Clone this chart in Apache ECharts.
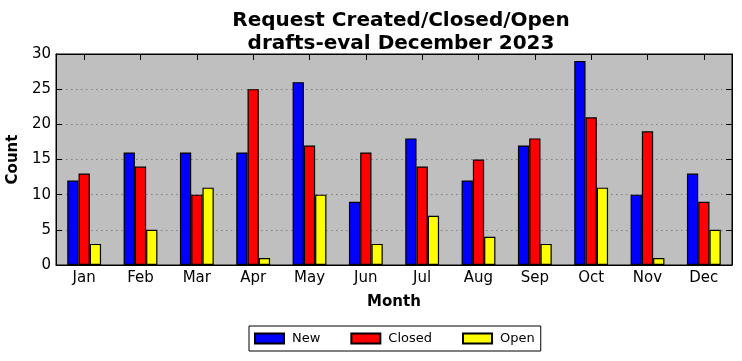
<!DOCTYPE html>
<html><head><meta charset="utf-8">
<script src="https://cdn.jsdelivr.net/npm/echarts@6/dist/echarts.min.js"></script>
<style>html,body{margin:0;padding:0;background:#fff}#c{width:742px;height:361px}</style>
</head><body><div id="c"></div>
<script>
const months = ['Jan','Feb','Mar','Apr','May','Jun','Jul','Aug','Sep','Oct','Nov','Dec'];
const newVals = [12,16,16,16,26,9,18,12,17,29,10,13];
const closedVals = [13,14,10,25,17,16,14,15,18,21,19,9];
const openVals = [3,5,11,1,10,3,7,4,3,11,1,5];
const yTicks = [0,5,10,15,20,25,30];

const F = 'DejaVu Sans';
const chart = echarts.init(document.getElementById('c'), null, {renderer:'canvas'});
const bar = (name, data, color) => ({
  name, type:'bar', data, xAxisIndex:0, yAxisIndex:0,
  barWidth:'20%', barGap:'0%',
  itemStyle:{color, borderColor:'#000', borderWidth:1.2},
  emphasis:{disabled:true}
});
chart.setOption({
  animation:false,
  backgroundColor:'#fff',
  title:{
    text:'Request Created/Closed/Open\ndrafts-eval December 2023',
    left:396, top:4, textAlign:'center',
    textStyle:{fontFamily:F, fontSize:20, fontWeight:'bold', color:'#000', lineHeight:23.5}
  },
  grid:{left:56, right:10, top:54, bottom:96, outerBoundsMode:'none', containLabel:false,
    show:true, backgroundColor:'#bfbfbf', borderColor:'#000', borderWidth:1},
  legend:{
    data:['New','Closed','Open'],
    left:249, top:326, orient:'horizontal',
    icon:'rect', itemWidth:29, itemHeight:10, itemGap:30,
    padding:[5,6,5,5],
    borderColor:'#000', borderWidth:1,
    textStyle:{fontFamily:F, fontSize:13, color:'#000', padding:[0,0,0,3], lineHeight:15}
  },
  xAxis:[{
    type:'category', data:months, position:'bottom',
    name:'Month', nameLocation:'middle', nameGap:30,
    nameTextStyle:{fontFamily:F, fontSize:15, fontWeight:'bold', color:'#000'},
    axisLine:{onZero:false, lineStyle:{color:'#000', width:1}},
    axisTick:{show:false},
    axisLabel:{fontFamily:F, fontSize:15, color:'#000', margin:6},
    splitLine:{show:false}
  },{
    type:'category', data:months, position:'top',
    axisLine:{onZero:false, lineStyle:{color:'#000', width:1}},
    axisTick:{show:true, inside:true, alignWithLabel:true, length:6, lineStyle:{color:'#000'}},
    axisLabel:{show:false}
  }],
  yAxis:[{
    type:'value', min:0, max:30, interval:5,
    name:'Count', nameLocation:'middle', nameGap:32,
    nameTextStyle:{fontFamily:F, fontSize:15, fontWeight:'bold', color:'#000'},
    axisLine:{show:true, onZero:false, lineStyle:{color:'#000'}},
    axisTick:{show:true, inside:true, length:6, lineStyle:{color:'#000'}},
    axisLabel:{fontFamily:F, fontSize:15, color:'#000', margin:5,
      formatter:v => yTicks.includes(v) ? String(v) : ''},
    splitLine:{show:true, lineStyle:{color:'#808080', type:[1.5,3.5], width:1}}
  },{
    type:'value', min:0, max:30, interval:5, position:'right',
    axisLine:{show:true, onZero:false, lineStyle:{color:'#000'}},
    axisTick:{show:true, inside:true, length:6, lineStyle:{color:'#000'}},
    axisLabel:{show:false}, splitLine:{show:false}
  }],
  series:[
    bar('New', newVals, '#0000ff'),
    bar('Closed', closedVals, '#ff0000'),
    bar('Open', openVals, '#ffff00')
  ]
});
</script></body></html>
